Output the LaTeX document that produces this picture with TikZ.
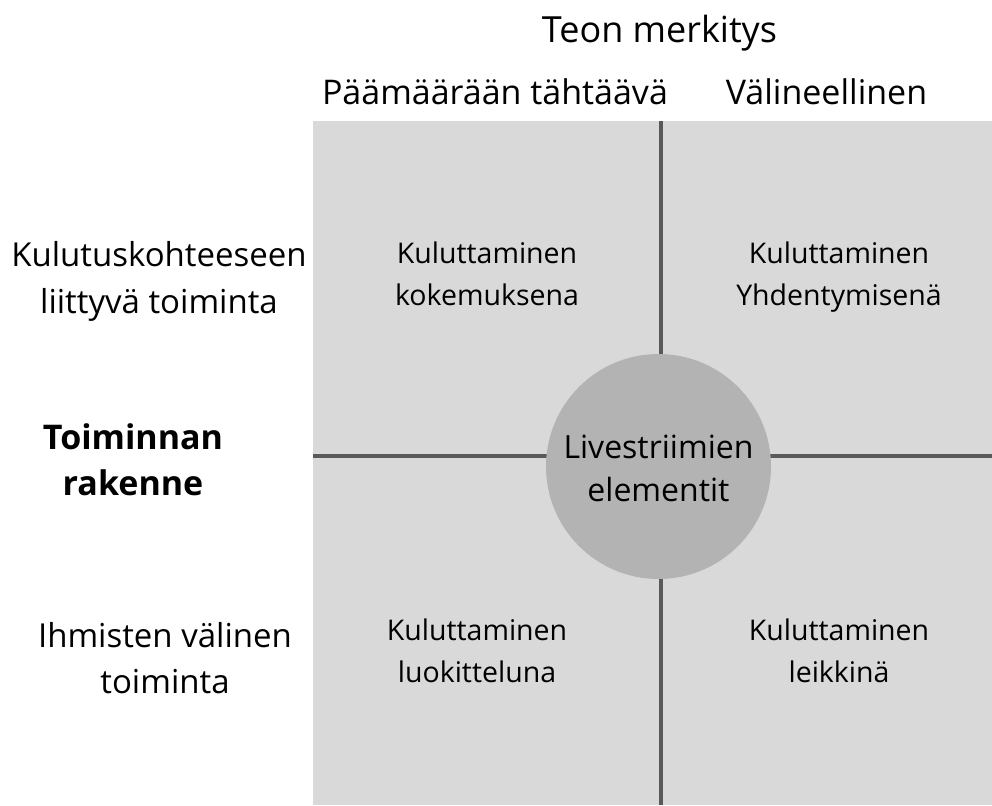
\documentclass[tikz,border=0pt]{standalone}
\usepackage{fontspec}
\setmainfont{Open Sans}
\begin{document}
\begin{tikzpicture}[x=1pt,y=-1pt,
  outer/.style={inner sep=0pt, align=center, anchor=base, font=\fontsize{33}{47}\selectfont},
  header/.style={inner sep=0pt, align=center, anchor=base, font=\fontsize{34}{47}\selectfont},
  inner/.style={inner sep=0pt, align=center, anchor=base, font=\fontsize{28.5}{42}\selectfont},
  divider/.style={draw=divgray, line width=4pt},
]
\definecolor{boxgray}{HTML}{D9D9D9}
\definecolor{circgray}{HTML}{B3B3B3}
\definecolor{divgray}{HTML}{595959}
\useasboundingbox (0,0) rectangle (992,805);
% quadrant field
\node[fill=boxgray, inner sep=0pt, minimum width=679pt, minimum height=684pt, anchor=north west] (field) at (313,121) {};
\coordinate (vtop) at (661,121);
\coordinate (vbot) at (661,805);
\coordinate (hleft) at (313,456);
\coordinate (hright) at (992,456);
\draw[divider] (vtop) -- (vbot);
\draw[divider] (hleft) -- (hright);
\node[circle, fill=circgray, minimum size=225pt, inner sep=0pt] (core) at (658.5,466.5) {};
\node[inner sep=0pt, align=center, anchor=base, font=\fontsize{32}{43}\selectfont] (coretext) at (658.5,501) {Livestriimien\\elementit};
% headers
\node[header, font=\fontsize{36}{47}\selectfont] (title) at (659.5,43) {Teon merkitys};
\node[header] (colA) at (495,105) {Päämäärään tähtäävä};
\node[header] (colB) at (826.5,105) {Välineellinen};
% row labels
\node[outer] (rowA) at (159,313) {Kulutuskohteeseen\\liittyvä toiminta};
\node[header, font=\bfseries\fontsize{34}{46}\selectfont] (axis) at (133,495) {Toiminnan\\rakenne};
\node[outer, font=\fontsize{33}{46}\selectfont] (rowB) at (165,693) {Ihmisten välinen\\toiminta};
% quadrant texts
\node[inner] (q1) at (487,305) {Kuluttaminen\\kokemuksena};
\node[inner] (q2) at (839,305) {Kuluttaminen\\Yhdentymisenä};
\node[inner] (q3) at (477,682) {Kuluttaminen\\luokitteluna};
\node[inner] (q4) at (839,682) {Kuluttaminen\\leikkinä};
\end{tikzpicture}
\end{document}
